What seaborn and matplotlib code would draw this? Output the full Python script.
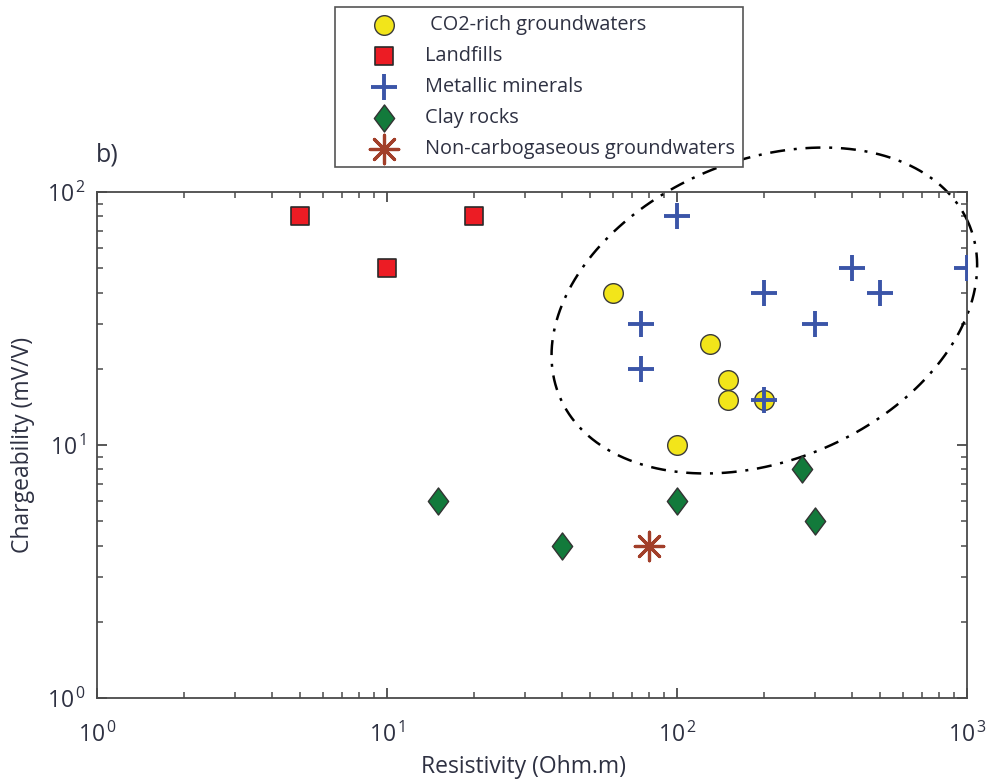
import numpy as np
import pandas as pd
import matplotlib
matplotlib.use("Agg")
import matplotlib.pyplot as plt
from matplotlib.path import Path
from matplotlib.ticker import LogLocator, FuncFormatter, NullFormatter
import seaborn as sns

# Resistivity (Ohm.m) and chargeability (mV/V) for each material group
co2_res = [60, 130, 150, 150, 200, 100]
co2_chg = [40, 25, 18, 15, 15, 10]

landfill_res = [5, 10, 20]
landfill_chg = [80, 50, 80]

metal_res = [100, 75, 75, 200, 300, 400, 500, 1000, 200]
metal_chg = [80, 30, 20, 40, 30, 50, 40, 50, 15]

clay_res = [15, 40, 100, 270, 300]
clay_chg = [6, 4, 6, 8, 5]

noncarb_res = [80]
noncarb_chg = [4]

labels = [" CO2-rich groundwaters", "Landfills", "Metallic minerals",
          "Clay rocks", "Non-carbogaseous groundwaters"]

# Zone of CO2-rich groundwaters / metallic minerals (log10 centre, in decades)
zone_center = (np.log10(200), np.log10(34))

sns.set_style("ticks")
plt.rcParams["font.family"] = ["Open Sans", "DejaVu Sans"]
plt.rcParams["mathtext.fontset"] = "custom"
plt.rcParams["mathtext.rm"] = "Open Sans"
plt.rcParams["mathtext.it"] = "Open Sans:italic"
plt.rcParams["mathtext.bf"] = "Open Sans:bold"

text_col = "#2e3142"
axis_col = "#4a4a4a"

frames = []
for name, xs, ys in zip(labels,
                        [co2_res, landfill_res, metal_res, clay_res, noncarb_res],
                        [co2_chg, landfill_chg, metal_chg, clay_chg, noncarb_chg]):
    frames.append(pd.DataFrame({"res": xs, "chg": ys, "group": name}))
df = pd.concat(frames, ignore_index=True)

fig = plt.figure(figsize=(9.89, 7.81), dpi=100)
ax = fig.add_axes([0.0981, 0.1063, 0.8797, 0.6479])

diamond = Path([(0, 1), (0.75, 0), (0, -1), (-0.75, 0), (0, 1)],
               [Path.MOVETO, Path.LINETO, Path.LINETO, Path.LINETO, Path.CLOSEPOLY])
asterisk = (8, 2, 0)

styles = {
    labels[0]: dict(marker="o", color="#f2e51a", s=200, edgecolor="#3a3a3a", linewidth=1.0),
    labels[1]: dict(marker="s", color="#ec1c24", s=150, edgecolor="#2a2a2a", linewidth=1.2),
    labels[2]: dict(marker="+", color="#3b55a8", s=330, linewidth=2.8),
    labels[3]: dict(marker=diamond, color="#127a3b", s=380, edgecolor="#333333", linewidth=1.0),
    labels[4]: dict(marker=asterisk, color="#a23f2a", s=420, linewidth=2.3),
}

for name in labels:
    sub = df[df["group"] == name]
    sns.scatterplot(data=sub, x="res", y="chg", ax=ax, label=name, zorder=3,
                    **styles[name])

ax.set_xscale("log")
ax.set_yscale("log")
ax.set_xlim(1, 1000)
ax.set_ylim(1, 100)

# Dash-dot zone boundary, an ellipse in log-log space
t = np.linspace(0, 2 * np.pi, 400)
dx = 0.706 * np.cos(t) - 0.200 * np.sin(t)
dy = 0.340 * np.cos(t) + 0.547 * np.sin(t)
ax.plot(10 ** (zone_center[0] + dx), 10 ** (zone_center[1] + dy),
        color="black", linestyle=(0, (6, 3.5, 1.2, 3.5)), linewidth=1.8,
        clip_on=False, zorder=2)

fmt = FuncFormatter(lambda v, p: r"$10^{\,%d}$" % int(round(np.log10(v))))
for axis in (ax.xaxis, ax.yaxis):
    axis.set_major_locator(LogLocator(base=10, numticks=10))
    axis.set_minor_locator(LogLocator(base=10, subs=np.arange(2, 10), numticks=10))
    axis.set_major_formatter(fmt)
    axis.set_minor_formatter(NullFormatter())

ax.tick_params(which="both", direction="in", top=True, right=True,
               color=axis_col, labelcolor=text_col, labelsize=16.5)
ax.tick_params(which="major", length=7, width=1.3)
ax.tick_params(which="minor", length=4.5, width=1.1)
ax.tick_params(axis="x", which="major", pad=18)
ax.tick_params(axis="y", which="major", pad=8)
for sp in ax.spines.values():
    sp.set_color(axis_col)
    sp.set_linewidth(1.3)
    sp.set_visible(True)

ax.set_xlabel("Resistivity (Ohm.m)", fontsize=16.5, color=text_col)
ax.set_ylabel("Chargeability (mV/V)", fontsize=16.5, color=text_col)
ax.xaxis.set_label_coords(0.49, -0.112)
ax.yaxis.set_label_coords(-0.071, 0.5)

fig.text(96 / 989, 1 - 155 / 781, "b)", fontsize=18, color=text_col,
         ha="left", va="center")

leg = ax.legend(loc="upper left", bbox_to_anchor=(335 / 989, 1 - 7 / 781),
                bbox_transform=fig.transFigure, frameon=True, fancybox=False,
                edgecolor="#555555", framealpha=1, fontsize=14.3,
                labelspacing=0.55, handletextpad=0.0, borderpad=0.42,
                borderaxespad=0, handlelength=4.1)
leg.get_frame().set_linewidth(1.2)
for txt in leg.get_texts():
    txt.set_color(text_col)

fig.savefig("out.png", dpi=100)
